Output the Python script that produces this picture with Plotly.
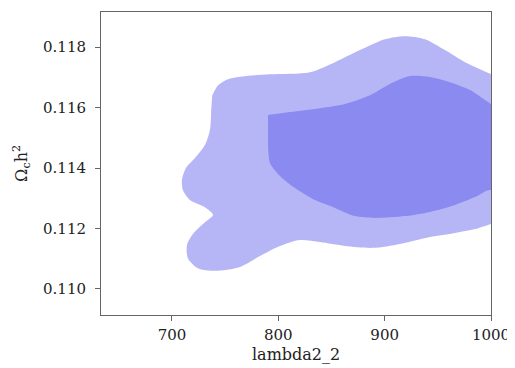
import plotly.graph_objects as go

# Outer (95%) contour boundary, data coordinates
outer_x = [737.9, 743.0, 752.0, 766.0, 792.2, 829.8, 853.3, 876.8, 900.3, 919.1, 937.9,
           956.7, 975.6, 989.7, 1000.0, 1015.0, 1015.0, 1000.0, 985.0, 966.2, 942.6,
           914.4, 889.0, 862.7, 839.2, 820.4, 801.6, 782.8, 764.0, 740.4, 724.5, 715.0,
           714.1, 719.7, 731.0, 738.6, 732.0, 716.9, 710.3, 709.4, 713.2, 721.6, 731.0,
           735.7, 736.9]
outer_y = [0.11640, 0.11672, 0.11693, 0.11703, 0.11710, 0.11717, 0.11750, 0.11790,
           0.11826, 0.11836, 0.11826, 0.11790, 0.11750, 0.11727, 0.11711, 0.11690,
           0.11230, 0.11215, 0.11198, 0.11185, 0.11172, 0.11149, 0.11136, 0.11142,
           0.11155, 0.11162, 0.11142, 0.11109, 0.11073, 0.11060, 0.11069, 0.11102,
           0.11145, 0.11182, 0.11221, 0.11245, 0.11268, 0.11294, 0.11327, 0.11360,
           0.11400, 0.11433, 0.11476, 0.11526, 0.11592]

# Inner (68%) contour boundary
inner_x = [790.3, 811.0, 839.2, 862.7, 886.2, 905.0, 923.8, 942.6, 961.4, 980.3, 994.4,
           1000.0, 1015.0, 1015.0, 1000.0, 985.0, 966.2, 942.6, 919.1, 890.9, 872.1,
           853.3, 834.5, 815.7, 801.6, 792.2, 790.3]
inner_y = [0.11575, 0.11585, 0.11598, 0.11612, 0.11641, 0.11678, 0.11704, 0.11701,
           0.11684, 0.11658, 0.11625, 0.11612, 0.11560, 0.11250, 0.11327, 0.11304,
           0.11278, 0.11255, 0.11241, 0.11235, 0.11241, 0.11268, 0.11294, 0.11334,
           0.11374, 0.11417, 0.11493]

x_ticks = [700, 800, 900, 1000]
y_ticks = [0.110, 0.112, 0.114, 0.116, 0.118]

fig = go.Figure()
fig.add_trace(go.Scatter(x=outer_x, y=outer_y, fill="toself", mode="lines",
                         line=dict(width=0, shape="spline", smoothing=0.8),
                         fillcolor="rgb(182,182,246)", hoverinfo="skip", showlegend=False))
fig.add_trace(go.Scatter(x=inner_x, y=inner_y, fill="toself", mode="lines",
                         line=dict(width=0, shape="spline", smoothing=0.8),
                         fillcolor="rgb(138,138,241)", hoverinfo="skip", showlegend=False))

font = dict(family="DejaVu Serif", size=15, color="#222")
tfont = dict(family="DejaVu Serif", size=16, color="#222")
fig.update_layout(
    width=507, height=360,
    margin=dict(l=93, r=24, t=4, b=53),
    paper_bgcolor="white", plot_bgcolor="white",
    font=font,
    xaxis=dict(range=[633.3, 1000], tickvals=x_ticks, ticktext=[str(v) for v in x_ticks],
               showgrid=False, zeroline=False, showline=True, mirror=True, automargin=False,
               linecolor="#666", linewidth=1, ticks="outside", ticklen=5, tickcolor="#666",
               tickfont=font, ticklabelstandoff=1),
    yaxis=dict(range=[0.10914, 0.11916], tickvals=y_ticks,
               ticktext=[f"{v:.3f}" for v in y_ticks], automargin=False,
               showgrid=False, zeroline=False, showline=True, mirror=True,
               linecolor="#666", linewidth=1, ticks="outside", ticklen=5, tickcolor="#666",
               tickfont=font, ticklabelstandoff=6),
    annotations=[
        dict(text="lambda2_2", xref="paper", yref="paper", x=0.5, y=-0.132,
             xanchor="center", yanchor="middle", showarrow=False, font=tfont),
        dict(text="Ω<sub>c</sub>h<sup>2</sup>", xref="paper", yref="paper", x=-0.2026, y=0.502,
             xanchor="center", yanchor="middle", showarrow=False, textangle=-90, font=tfont),
    ],
)
fig.write_html("out.html")
